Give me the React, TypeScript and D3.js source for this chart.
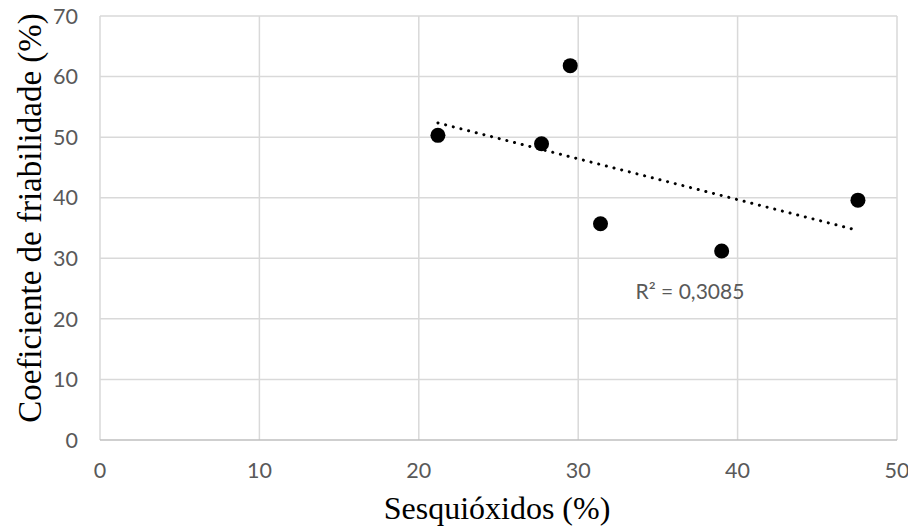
import React from "react";
import * as d3 from "d3";

const xValues = [21.2, 27.7, 29.5, 31.4, 39.0, 47.55];
const yValues = [50.3, 48.9, 61.8, 35.7, 31.2, 39.6];
const xTicks = [0, 10, 20, 30, 40, 50];
const yTicks = [0, 10, 20, 30, 40, 50, 60, 70];
const r2Label = "R² = 0,3085";
const xTitle = "Sesquióxidos (%)";
const yTitle = "Coeficiente de friabilidade (%)";

const W = 908;
const H = 531;
const M = { left: 100, right: 897, top: 16, bottom: 440 };

export default function App() {
  const x = d3.scaleLinear().domain([0, 50]).range([M.left, M.right]);
  const y = d3.scaleLinear().domain([0, 70]).range([M.bottom, M.top]);

  const pts = xValues.map((v, i) => ({ x: v, y: yValues[i] }));
  const mx = d3.mean(xValues)!;
  const my = d3.mean(yValues)!;
  let sxy = 0, sxx = 0;
  pts.forEach((p) => {
    sxy += (p.x - mx) * (p.y - my);
    sxx += (p.x - mx) * (p.x - mx);
  });
  const slope = sxy / sxx;
  const intercept = my - slope * mx;
  const [x0, x1] = d3.extent(xValues) as [number, number];
  const trend = d3.line<number>()
    .x((d) => x(d))
    .y((d) => y(intercept + slope * d))([x0, x1]);

  const tickFont = "Lato, 'Open Sans', sans-serif";
  const serif = "'Liberation Serif', 'Times New Roman', serif";

  return (
    <svg width={W} height={H} style={{ position: "absolute", left: 0, top: 0, background: "#fff" }}>
      <rect x={0} y={0} width={W} height={H} fill="#fff" />
      {xTicks.map((t) => (
        <line key={"gx" + t} x1={x(t)} x2={x(t)} y1={M.top} y2={M.bottom} stroke="#d9d9d9" strokeWidth={1.5} />
      ))}
      {yTicks.map((t) => (
        <line key={"gy" + t} x1={M.left} x2={M.right} y1={y(t)} y2={y(t)} stroke={t === 0 ? "#bfbfbf" : "#d9d9d9"} strokeWidth={1.5} />
      ))}
      {yTicks.map((t) => (
        <text key={"ty" + t} x={78} y={y(t)} dy="0.36em" textAnchor="end" fontFamily={tickFont} fontSize={21.5} fill="#595959">
          {t}
        </text>
      ))}
      {xTicks.map((t) => (
        <text key={"tx" + t} x={x(t)} y={478} textAnchor="middle" fontFamily={tickFont} fontSize={21.5} fill="#595959">
          {t}
        </text>
      ))}
      <path d={trend || ""} fill="none" stroke="#000" strokeWidth={3} strokeDasharray="0.1 7.8" strokeLinecap="round" />
      {pts.map((p, i) => (
        <circle key={"p" + i} cx={x(p.x)} cy={y(p.y)} r={7.5} fill="#000" />
      ))}
      <text x={x(33.6)} y={y(23.35)} fontFamily={tickFont} fontSize={21} fill="#595959">
        {r2Label}
      </text>
      <text x={497} y={519} textAnchor="middle" fontFamily={serif} fontSize={32} fill="#000">
        {xTitle}
      </text>
      <text transform={`translate(41, 218) rotate(-90)`} textAnchor="middle" fontFamily={serif} fontSize={33} fill="#000">
        {yTitle}
      </text>
    </svg>
  );
}
